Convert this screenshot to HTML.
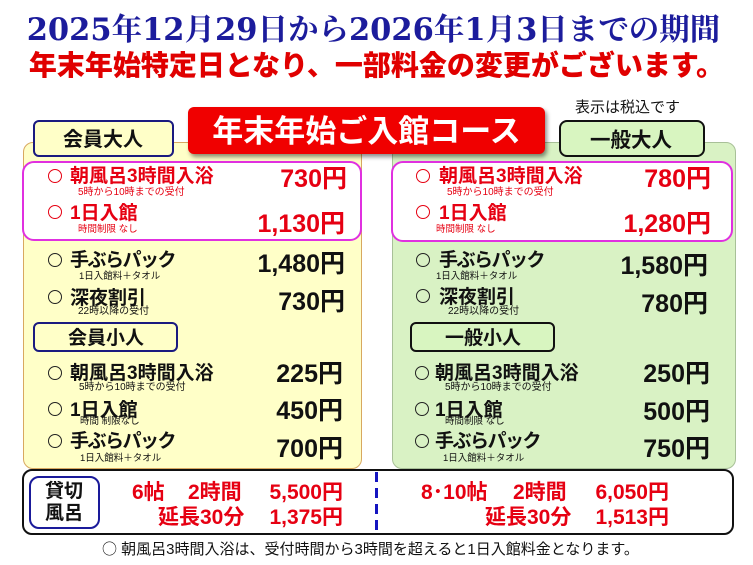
<!DOCTYPE html>
<html><head><meta charset="utf-8">
<style>
html,body{margin:0;padding:0;background:#fff;}
body{width:753px;height:565px;position:relative;overflow:hidden;font-family:"Liberation Sans","Noto Sans CJK JP",sans-serif;}
.a{position:absolute;}
.t{position:absolute;line-height:1;white-space:nowrap;font-family:"Liberation Sans","Noto Sans CJK JP",sans-serif;}
.lb{font-size:19px;font-weight:bold;}
.sb{font-size:10px;}
.pr{font-size:25px;font-weight:bold;}
.red{color:#e60012;}
.blk{color:#111;}
.c{position:absolute;width:14px;height:14px;box-sizing:border-box;border:1.3px solid #222;border-radius:50%;}
.c.r{border-color:#e60012;}
.bt{font-size:21px;font-weight:bold;color:#e60012;}
</style></head><body>

<!-- titles -->
<div class="t" style="left:-3px;width:753px;text-align:center;top:15px;font-size:30.5px;font-weight:bold;color:#1c1c9c;font-family:'DejaVu Serif','Noto Serif CJK SC',serif;">2025年12月29日から2026年1月3日までの期間</div>
<div class="t" style="left:0;width:753px;text-align:center;top:52px;font-size:28px;font-weight:900;color:#e00000;">年末年始特定日となり、一部料金の変更がございます。</div>

<!-- panels -->
<div class="a" style="left:23px;top:142px;width:339px;height:327px;box-sizing:border-box;border:1px solid #d8a860;border-radius:10px;background:#ffffc8;"></div>
<div class="a" style="left:392px;top:142px;width:344px;height:327px;box-sizing:border-box;border:1px solid #a8c098;border-radius:10px;background:#d9f2c4;"></div>

<!-- header boxes -->
<div class="a" style="left:33px;top:120px;width:141px;height:37px;box-sizing:border-box;border:2px solid #1a1a80;border-radius:6px;background:#ffffc8;"></div>
<div class="t" style="left:63px;top:130px;font-size:20px;font-weight:bold;color:#111;">会員大人</div>

<div class="a" style="left:559px;top:120px;width:146px;height:37px;box-sizing:border-box;border:2px solid #111;border-radius:8px;background:#d8f5c0;"></div>
<div class="t" style="left:590px;top:131px;font-size:20.5px;font-weight:bold;color:#111;">一般大人</div>

<div class="t" style="left:575px;top:100px;font-size:15px;color:#111;">表示は税込です</div>

<div class="a" style="left:188px;top:107px;width:357px;height:47px;border-radius:6px;background:#f00000;box-shadow:2px 3px 4px rgba(0,0,0,0.45);"></div>
<div class="t" style="left:188px;width:357px;text-align:center;top:116px;font-size:31px;font-weight:bold;color:#fff;">年末年始ご入館コース</div>

<!-- magenta boxes -->
<div class="a" style="left:22px;top:161px;width:340px;height:80px;box-sizing:border-box;border:2px solid #e030e0;border-radius:12px;background:#fff;"></div>
<div class="a" style="left:391px;top:161px;width:342px;height:81px;box-sizing:border-box;border:2px solid #e030e0;border-radius:12px;background:#fff;"></div>

<!-- LEFT adult rows -->
<div class="c r" style="left:48px;top:169px;"></div>
<div class="t lb red" style="left:70px;top:167px;">朝風呂3時間入浴</div>
<div class="t sb red" style="left:78px;top:188px;">5時から10時までの受付</div>
<div class="t pr red" style="right:406px;top:167px;">730円</div>

<div class="c r" style="left:48px;top:205px;"></div>
<div class="t lb red" style="left:70px;top:204px;">1日入館</div>
<div class="t sb red" style="left:78px;top:225px;font-size:9.5px;">時間制限 なし</div>
<div class="t pr red" style="right:408px;top:212px;">1,130円</div>

<div class="c" style="left:48px;top:253px;"></div>
<div class="t lb blk" style="left:70px;top:251px;letter-spacing:-1.5px;">手ぶらパック</div>
<div class="t sb blk" style="left:79px;top:272px;font-size:9.5px;">1日入館料＋タオル</div>
<div class="t pr blk" style="right:408px;top:252px;">1,480円</div>

<div class="c" style="left:48px;top:290px;"></div>
<div class="t lb blk" style="left:70px;top:289px;">深夜割引</div>
<div class="t sb blk" style="left:78px;top:307px;">22時以降の受付</div>
<div class="t pr blk" style="right:408px;top:290px;">730円</div>

<div class="a" style="left:33px;top:322px;width:145px;height:30px;box-sizing:border-box;border:2px solid #1a1a80;border-radius:6px;background:#ffffc8;"></div>
<div class="t" style="left:68px;top:329px;font-size:19px;font-weight:bold;color:#111;">会員小人</div>

<div class="c" style="left:48px;top:366px;"></div>
<div class="t lb blk" style="left:70px;top:364px;">朝風呂3時間入浴</div>
<div class="t sb blk" style="left:79px;top:383px;">5時から10時までの受付</div>
<div class="t pr blk" style="right:410px;top:362px;">225円</div>

<div class="c" style="left:48px;top:402px;"></div>
<div class="t lb blk" style="left:70px;top:401px;">1日入館</div>
<div class="t sb blk" style="left:80px;top:417px;font-size:9.5px;">時間 制限なし</div>
<div class="t pr blk" style="right:410px;top:399px;">450円</div>

<div class="c" style="left:48px;top:434px;"></div>
<div class="t lb blk" style="left:70px;top:432px;letter-spacing:-1.5px;">手ぶらパック</div>
<div class="t sb blk" style="left:80px;top:454px;font-size:9.5px;">1日入館料＋タオル</div>
<div class="t pr blk" style="right:410px;top:437px;">700円</div>

<!-- RIGHT adult rows -->
<div class="c r" style="left:416px;top:169px;"></div>
<div class="t lb red" style="left:439px;top:167px;">朝風呂3時間入浴</div>
<div class="t sb red" style="left:447px;top:188px;">5時から10時までの受付</div>
<div class="t pr red" style="right:42px;top:167px;">780円</div>

<div class="c r" style="left:416px;top:205px;"></div>
<div class="t lb red" style="left:439px;top:204px;">1日入館</div>
<div class="t sb red" style="left:436px;top:225px;font-size:9.5px;">時間制限 なし</div>
<div class="t pr red" style="right:42px;top:212px;">1,280円</div>

<div class="c" style="left:416px;top:253px;"></div>
<div class="t lb blk" style="left:439px;top:251px;letter-spacing:-1.5px;">手ぶらパック</div>
<div class="t sb blk" style="left:436px;top:272px;font-size:9.5px;">1日入館料＋タオル</div>
<div class="t pr blk" style="right:45px;top:254px;">1,580円</div>

<div class="c" style="left:416px;top:289px;"></div>
<div class="t lb blk" style="left:439px;top:288px;">深夜割引</div>
<div class="t sb blk" style="left:448px;top:307px;">22時以降の受付</div>
<div class="t pr blk" style="right:45px;top:292px;">780円</div>

<div class="a" style="left:410px;top:322px;width:145px;height:30px;box-sizing:border-box;border:2px solid #111;border-radius:6px;background:#d8f5c0;"></div>
<div class="t" style="left:445px;top:329px;font-size:19px;font-weight:bold;color:#111;">一般小人</div>

<div class="c" style="left:415px;top:366px;"></div>
<div class="t lb blk" style="left:435px;top:364px;">朝風呂3時間入浴</div>
<div class="t sb blk" style="left:445px;top:383px;">5時から10時までの受付</div>
<div class="t pr blk" style="right:43px;top:362px;">250円</div>

<div class="c" style="left:415px;top:402px;"></div>
<div class="t lb blk" style="left:435px;top:401px;">1日入館</div>
<div class="t sb blk" style="left:445px;top:417px;font-size:9.5px;">時間制限 なし</div>
<div class="t pr blk" style="right:43px;top:400px;">500円</div>

<div class="c" style="left:415px;top:434px;"></div>
<div class="t lb blk" style="left:435px;top:432px;letter-spacing:-1.5px;">手ぶらパック</div>
<div class="t sb blk" style="left:443px;top:454px;font-size:9.5px;">1日入館料＋タオル</div>
<div class="t pr blk" style="right:43px;top:437px;">750円</div>

<!-- bottom box -->
<div class="a" style="left:22px;top:469px;width:712px;height:66px;box-sizing:border-box;border:2.5px solid #111;border-radius:10px;background:#fff;"></div>
<div class="a" style="left:29px;top:476px;width:71px;height:53px;box-sizing:border-box;border:2px solid #1a1a9a;border-radius:10px;background:#fff;"></div>
<div class="t" style="left:45px;top:482px;font-size:19px;font-weight:bold;color:#111;">貸切</div>
<div class="t" style="left:45px;top:504px;font-size:19px;font-weight:bold;color:#111;">風呂</div>

<div class="t bt" style="left:132px;top:482px;">6帖</div>
<div class="t bt" style="left:188px;top:482px;">2時間</div>
<div class="t bt" style="right:410px;top:482px;">5,500円</div>
<div class="t bt" style="left:158px;top:507px;">延長30分</div>
<div class="t bt" style="right:410px;top:507px;">1,375円</div>

<div class="a" style="left:375px;top:472px;width:3px;height:60px;background:repeating-linear-gradient(to bottom,#1515c0 0,#1515c0 10px,transparent 10px,transparent 16px);"></div>

<div class="t bt" style="left:421px;top:482px;">8･10帖</div>
<div class="t bt" style="left:513px;top:482px;">2時間</div>
<div class="t bt" style="right:84px;top:482px;">6,050円</div>
<div class="t bt" style="left:485px;top:507px;">延長30分</div>
<div class="t bt" style="right:84px;top:507px;">1,513円</div>

<!-- footer -->
<div class="t" style="left:102px;top:541px;font-size:15px;color:#111;"><span style="font-family:'Noto Sans CJK JP',sans-serif;">○</span> 朝風呂3時間入浴は、受付時間から3時間を超えると1日入館料金となります。</div>

</body></html>
